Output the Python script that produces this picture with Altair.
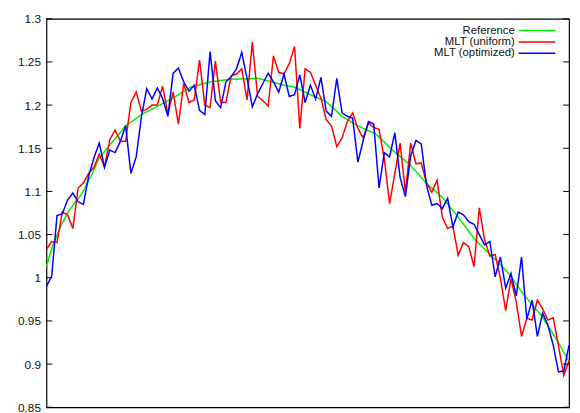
import altair as alt
import pandas as pd

# sample index along the x axis (no x labels in the reference)
idx = list(range(100))

mlt_uniform = [
    1.033, 1.042, 1.041, 1.076, 1.073, 1.057, 1.104, 1.110, 1.121, 1.128,
    1.143, 1.128, 1.160, 1.171, 1.158, 1.158, 1.203, 1.215, 1.193, 1.195,
    1.200, 1.200, 1.222, 1.190, 1.215, 1.178, 1.225, 1.203, 1.206, 1.252,
    1.200, 1.197, 1.251, 1.203, 1.203, 1.234, 1.236, 1.242, 1.206, 1.273,
    1.210, 1.205, 1.199, 1.257, 1.238, 1.236, 1.248, 1.268, 1.173, 1.242,
    1.238, 1.223, 1.208, 1.183, 1.176, 1.152, 1.162, 1.181, 1.191, 1.173,
    1.162, 1.179, 1.174, 1.172, 1.138, 1.086, 1.121, 1.156, 1.099, 1.156,
    1.132, 1.133, 1.110, 1.099, 1.113, 1.070, 1.057, 1.060, 1.026, 1.041,
    1.036, 1.013, 1.081, 1.044, 1.025, 1.027, 0.999, 0.962, 0.999, 0.972,
    0.932, 0.953, 0.951, 0.974, 0.964, 0.951, 0.954, 0.921, 0.887, 0.904,
]

mlt_optimized = [
    0.990, 1.002, 1.072, 1.074, 1.090, 1.098, 1.088, 1.085, 1.118, 1.139,
    1.156, 1.128, 1.148, 1.145, 1.158, 1.176, 1.121, 1.140, 1.187, 1.219,
    1.207, 1.220, 1.208, 1.187, 1.237, 1.243, 1.227, 1.216, 1.223, 1.194,
    1.189, 1.262, 1.205, 1.197, 1.227, 1.233, 1.242, 1.261, 1.231, 1.198,
    1.213, 1.225, 1.237, 1.227, 1.215, 1.236, 1.210, 1.212, 1.235, 1.203,
    1.223, 1.207, 1.232, 1.193, 1.187, 1.231, 1.191, 1.187, 1.185, 1.134,
    1.159, 1.181, 1.178, 1.104, 1.145, 1.140, 1.168, 1.116, 1.094, 1.141,
    1.159, 1.155, 1.107, 1.084, 1.086, 1.080, 1.092, 1.059, 1.076, 1.073,
    1.065, 1.062, 1.050, 1.038, 1.042, 1.001, 1.024, 0.988, 1.005, 0.979,
    1.024, 0.952, 0.974, 0.932, 0.959, 0.945, 0.922, 0.891, 0.892, 0.922,
]

reference_x = [0, 1.1, 2.8, 4.3, 6.8, 8.7, 9.9, 15, 18, 23.6, 27.4, 31.1, 34.9,
               40, 41.3, 45, 47, 50, 53, 56, 59, 62.5, 65.7, 68.7, 71.9, 75,
               77, 81.2, 84.4, 87.4, 90.6, 93.8, 96.8, 99]
reference_y = [1.013, 1.036, 1.061, 1.078, 1.098, 1.121, 1.138, 1.176, 1.189,
               1.207, 1.221, 1.227, 1.230, 1.231, 1.229, 1.223, 1.221, 1.212,
               1.204, 1.187, 1.176, 1.166, 1.147, 1.132, 1.110, 1.093, 1.078,
               1.044, 1.025, 1.006, 0.979, 0.956, 0.927, 0.903]

y_ticks = [0.85, 0.9, 0.95, 1.0, 1.05, 1.1, 1.15, 1.2, 1.25, 1.3]

legend_labels = ["Reference", "MLT (uniform)", "MLT (optimized)"]
legend_colors = ["#00ee00", "#ff0000", "#0000ff"]

W, H = 530, 394
xscale = alt.Scale(domain=[0, 99], nice=False, zero=False)
yscale = alt.Scale(domain=[0.85, 1.3], nice=False, zero=False)

df_u = pd.DataFrame({"x": idx, "y": mlt_uniform})
df_o = pd.DataFrame({"x": idx, "y": mlt_optimized})
df_r = pd.DataFrame({"x": reference_x, "y": reference_y})
df_t = pd.DataFrame({"y": y_ticks})

X = alt.X("x:Q", scale=xscale, axis=None)

Y = alt.Y(
    "y:Q", scale=yscale,
    axis=alt.Axis(values=y_ticks, format=".3~g", title=None, ticks=False,
                  domain=False, grid=False, labelPadding=6, labelFontSize=12,
                  labelColor="#111", labelFont="Liberation Sans"),
)

ref_line = alt.Chart(df_r).mark_line(color=legend_colors[0], strokeWidth=1.5).encode(x=X, y=Y)
uni_line = alt.Chart(df_u).mark_line(color=legend_colors[1], strokeWidth=1.5).encode(x=X, y=Y)
opt_line = alt.Chart(df_o).mark_line(color=legend_colors[2], strokeWidth=1.5).encode(x=X, y=Y)

ticks_left = alt.Chart(df_t).mark_rule(color="black", strokeWidth=1).encode(
    y=Y, x=alt.value(0), x2=alt.value(6))
ticks_right = alt.Chart(df_t).mark_rule(color="black", strokeWidth=1).encode(
    y=Y, x=alt.value(W - 6), x2=alt.value(W))

layers = [ref_line, uni_line, opt_line, ticks_left, ticks_right]
row_y = [12, 23.5, 35]
for lab, col, ry in zip(legend_labels, legend_colors, row_y):
    d = pd.DataFrame({"label": [lab]})
    layers.append(alt.Chart(d).mark_text(align="right", baseline="middle", fontSize=11.5,
                                         font="Liberation Sans", color="#111").encode(
        x=alt.value(475), y=alt.value(ry), text="label:N"))
    layers.append(alt.Chart(d).mark_rule(color=col, strokeWidth=1.5).encode(
        x=alt.value(479), x2=alt.value(516), y=alt.value(ry)))

chart = alt.layer(*layers).properties(
    width=W, height=H,
    background="white",
    autosize=alt.AutoSizeParams(type="none"),
    padding={"left": 39, "top": 8, "right": 3, "bottom": 10},
).configure_view(stroke="black", strokeWidth=1.2)

chart.save("out.html", embed_options={"renderer": "svg", "actions": False})
